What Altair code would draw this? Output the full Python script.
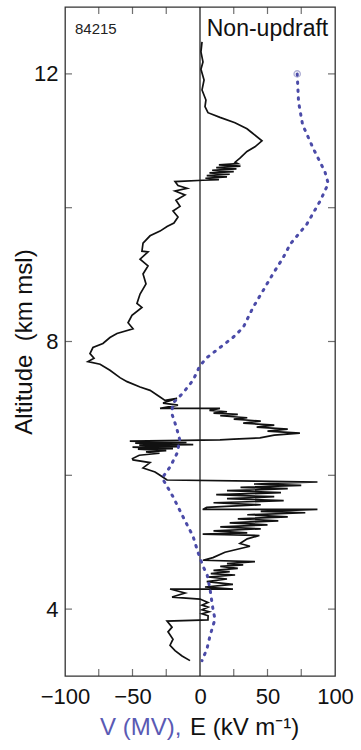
import altair as alt
import pandas as pd

# Electric-field sounding, in flight order: (altitude km msl, E in kV/m)
field_profile = [
    (12.48, 1.5), (12.33, 0.7), (12.18, 2.2), (12.07, 0.7), (11.91, 3.0),
    (11.76, 1.5), (11.61, 4.4), (11.51, 3.7), (11.42, 5.9), (11.35, 14.8),
    (11.27, 25.9), (11.18, 34.8), (11.12, 38.5), (11.00, 45.9), (10.91, 40.7),
    (10.84, 34.8), (10.74, 29.6), (10.68, 26.0), (10.66, 28.0), (10.64, 14.0),
    (10.62, 30.0), (10.60, 12.0), (10.58, 27.0), (10.56, 9.0), (10.54, 25.0),
    (10.52, 7.0), (10.50, 22.0), (10.48, 5.0), (10.46, 20.0), (10.44, 4.0),
    (10.42, 14.0), (10.41, 2.2),
    (10.39, -18.5), (10.33, -16.3), (10.29, -9.6), (10.25, -18.5), (10.19, -11.1),
    (10.11, -17.8), (10.02, -14.8), (9.95, -20.0), (9.86, -16.3), (9.77, -19.3),
    (9.72, -24.4), (9.65, -29.6), (9.58, -37.0), (9.47, -42.2), (9.35, -43.0),
    (9.34, -38.5), (9.23, -44.4), (9.13, -38.5), (9.01, -42.2), (8.86, -40.0),
    (8.71, -44.4), (8.57, -46.7), (8.51, -43.0), (8.39, -50.4), (8.28, -53.3),
    (8.19, -49.6), (8.12, -61.5), (8.06, -66.7), (7.97, -71.9), (7.91, -79.3),
    (7.82, -81.5), (7.75, -78.5), (7.70, -83.0), (7.66, -74.0), (7.57, -66.7),
    (7.46, -59.3), (7.40, -54.0), (7.32, -44.4), (7.27, -37.0), (7.17, -29.6),
    (7.12, -25.9), (7.15, -17.0), (7.08, -27.4), (7.05, -16.3), (7.00, -29.6),
    (7.00, 14.8), (6.97, 7.0), (6.95, 20.0), (6.93, 10.0), (6.91, 28.0),
    (6.89, 15.0), (6.86, 35.0), (6.84, 25.0), (6.81, 45.0), (6.78, 32.0),
    (6.75, 55.0), (6.72, 42.0), (6.69, 65.0), (6.66, 50.0), (6.63, 74.0),
    (6.60, 55.0), (6.56, 44.4), (6.54, 25.0), (6.53, 14.8),
    (6.51, -52.0), (6.49, -10.0), (6.48, -48.0), (6.46, -5.0), (6.45, -45.0),
    (6.43, -15.0), (6.42, -50.0), (6.40, -20.0), (6.39, -46.0), (6.37, -25.0),
    (6.35, -40.0), (6.33, -30.0), (6.30, -45.0), (6.25, -50.0), (6.23, -49.6),
    (6.19, -37.0), (6.11, -42.2), (6.05, -33.3), (6.00, -29.6), (5.93, -24.4),
    (5.90, 87.0), (5.87, 40.0), (5.85, 75.0), (5.82, 30.0), (5.80, 65.0),
    (5.77, 20.0), (5.74, 60.0), (5.71, 12.0), (5.68, 55.0), (5.65, 20.0),
    (5.62, 62.0), (5.59, 10.0), (5.56, 45.0), (5.52, 5.0), (5.49, 2.0),
    (5.49, 87.0), (5.46, 45.0), (5.44, 78.0), (5.41, 35.0), (5.38, 65.0),
    (5.35, 28.0), (5.32, 58.0), (5.29, 22.0), (5.26, 50.0), (5.23, 15.0),
    (5.20, 45.0), (5.17, 10.0), (5.14, 35.0), (5.12, 2.0), (5.10, 44.0),
    (5.05, 35.0), (4.98, 29.6), (4.94, 37.0), (4.85, 18.5), (4.77, 9.6),
    (4.73, 2.2), (4.71, 40.7), (4.68, 20.0), (4.66, 32.0), (4.64, 15.0),
    (4.61, 28.0), (4.58, 10.0), (4.56, 22.0), (4.53, 8.0), (4.51, 26.0),
    (4.48, 6.0), (4.45, 20.0), (4.41, 5.0), (4.37, 24.4), (4.33, 3.7),
    (4.30, 24.4), (4.30, -22.2), (4.24, -11.1),
    (4.18, -20.7), (4.15, 0.0), (4.10, 5.9), (4.06, 1.5), (4.03, 6.0),
    (3.99, 1.5), (3.96, 6.7), (3.93, 1.5), (3.90, 6.0), (3.84, 5.9),
    (3.82, -24.4), (3.73, -20.7), (3.66, -23.7),
    (3.55, -20.0), (3.46, -22.2), (3.38, -18.5), (3.30, -13.3), (3.23, -7.4),
]

# Electric potential derived from the sounding
pot_alt_km = [12.0, 11.58, 11.24, 10.88, 10.54, 10.36, 10.10, 9.75, 9.46, 9.25,
              9.01, 8.76, 8.51, 8.21, 8.06, 7.91, 7.76, 7.64, 7.42, 7.23,
              7.08, 6.93, 6.72, 6.53, 6.33, 6.13, 5.96, 5.68, 5.38, 5.09,
              4.85, 4.64, 4.52, 4.30, 4.00, 3.85, 3.60, 3.41, 3.23]
pot_mv = [72, 73, 76, 84, 92.5, 95, 89, 79, 67, 61.5,
          54, 46.7, 39.3, 32, 24.4, 14.8, 5.2, 0, -5.2, -12.6,
          -20, -21, -17.5, -15, -17, -22, -28, -20, -12.6, -5.2,
          -1.5, 2.2, 5.2, 7.4, 9.6, 11.1, 7.4, 5.2, 1.5]

x_labels = [-100, -50, 0, 50, 100]
x_ticks = [-75, -50, -25, 25, 50, 75]
y_labels = [4, 8, 12]
y_ticks = [4, 6, 8, 10, 12]

W, H = 270, 669
FONT = "Liberation Sans"
INK = "#111111"
BLUE = "#4b4ba8"

xs = alt.Scale(domain=[-100, 100], nice=False, zero=False)
ys = alt.Scale(domain=[3, 13], nice=False, zero=False)

field_df = pd.DataFrame(field_profile, columns=["alt", "E"])
field_df["i"] = range(len(field_df))
pot_df = pd.DataFrame({"alt": pot_alt_km, "V": pot_mv})
pot_df["i"] = range(len(pot_df))

# one shared axis definition per channel, repeated in every layer so they merge
x_axis = alt.Axis(values=x_labels, ticks=False, domain=False, grid=False,
                  labelFont=FONT, labelFontSize=22, labelColor=INK, labelPadding=10,
                  labelFlush=False, title=None)
y_axis = alt.Axis(values=y_labels, ticks=False, domain=False, grid=False,
                  labelFont=FONT, labelFontSize=22, labelColor=INK, labelPadding=7,
                  title="Altitude\u00a0\u00a0(km msl)", titleFont=FONT, titleFontSize=24,
                  titleFontWeight="normal", titleColor=INK, titleAngle=270,
                  titleAlign="center", titleBaseline="middle", titleX=-41, titleY=H / 2)


def X(field):
    return alt.X(field, scale=xs, axis=x_axis)


def Y(field):
    return alt.Y(field, scale=ys, axis=y_axis)


zero_line = alt.Chart(pd.DataFrame({"x0": [0]})).mark_rule(
    color=INK, strokeWidth=1.2
).encode(x=X("x0:Q"))

e_line = alt.Chart(field_df).mark_line(color=INK, strokeWidth=1.7).encode(
    x=X("E:Q"), y=Y("alt:Q"), order="i:Q"
)

v_line = alt.Chart(pot_df).mark_line(
    color=BLUE, strokeWidth=3, strokeDash=[1.5, 6.5], strokeCap="round"
).encode(x=X("V:Q"), y=Y("alt:Q"), order="i:Q")

v_top = alt.Chart(pot_df.iloc[:1]).mark_point(
    shape="circle", filled=False, size=40, color="#8f8fc4", strokeWidth=1.3
).encode(x=X("V:Q"), y=Y("alt:Q"))

# inward-pointing ticks on all four sides
xt_df = pd.DataFrame({"t": x_ticks})
yt_df = pd.DataFrame({"t": y_ticks})
tick_style = dict(color="#333333", thickness=1.2, size=7)
bottom_ticks = alt.Chart(xt_df).mark_tick(orient="vertical", **tick_style).encode(
    x=X("t:Q"), y=alt.value(H - 3.5))
top_ticks = alt.Chart(xt_df).mark_tick(orient="vertical", **tick_style).encode(
    x=X("t:Q"), y=alt.value(3.5))
left_ticks = alt.Chart(yt_df).mark_tick(orient="horizontal", **tick_style).encode(
    y=Y("t:Q"), x=alt.value(3.5))
right_ticks = alt.Chart(yt_df).mark_tick(orient="horizontal", **tick_style).encode(
    y=Y("t:Q"), x=alt.value(W - 3.5))


def label(text, x, y, size, color):
    df = pd.DataFrame({"x": [x], "y": [y], "s": [text]})
    return alt.Chart(df).mark_text(
        align="left", baseline="middle", font=FONT, fontSize=size, color=color
    ).encode(x=X("x:Q"), y=Y("y:Q"), text="s:N")


flight_id = label("84215", -92.6, 12.67, 15, "#222222")
regime = label("Non-updraft", 5.0, 12.67, 23, INK)
v_title = label("V (MV),", -74.1, 2.22, 24, "#5a5ab4")
e_title = label("E (kV m\u207b\u00b9)", -7.4, 2.22, 24, INK)

chart = alt.layer(
    zero_line, e_line, v_line, v_top,
    bottom_ticks, top_ticks, left_ticks, right_ticks,
    flight_id, regime, v_title, e_title,
).properties(
    width=W, height=H,
    padding={"left": 65, "top": 7, "right": 26, "bottom": 74},
    autosize=alt.AutoSizeParams(type="none"),
    background="white",
).configure_view(stroke="#333333", strokeWidth=1.3)

chart.save("out.html", embed_options={"renderer": "svg", "actions": False})
